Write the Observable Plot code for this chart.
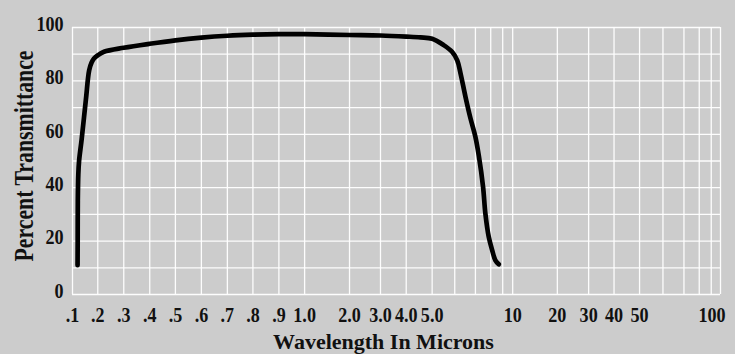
<!DOCTYPE html>
<html><head><meta charset="utf-8">
<script src="https://cdn.jsdelivr.net/npm/d3@7"></script>
<script src="https://cdn.jsdelivr.net/npm/@observablehq/plot@0.6"></script>
<style>
html,body{margin:0;padding:0;background:#cccccc;}
#chart svg{display:block;}
</style></head><body><div id="chart"></div>
<script>
// ---- data ----
const wavelength = [0.12, 0.1205, 0.121, 0.123, 0.126, 0.136, 0.153, 0.166, 0.176, 0.185, 0.2, 0.224, 0.3, 0.4, 0.5, 0.6, 0.7, 0.8, 0.9, 1.0, 2.0, 3.0, 4.0, 4.55, 5.0, 5.51, 5.88, 6.12, 6.28, 6.52, 6.76, 7.0, 7.22, 7.5, 7.65, 7.87, 8.12, 8.39, 8.67];
const transmittance = [11, 20, 35, 45, 50, 58, 73, 84, 87, 88.4, 89.6, 90.9, 92.4, 93.9, 95.2, 96.2, 96.9, 97.3, 97.5, 97.5, 97.2, 97.0, 96.6, 96.3, 95.8, 93.4, 90.9, 87.7, 82.8, 74, 66, 59, 52, 40.3, 30.3, 21.6, 16.6, 12.8, 11.3];

// chart-paper ruling (vertical lines) and its axis labels
const xGridValues = [0.1,0.2,0.3,0.4,0.5,0.6,0.7,0.8,0.9,1,2,3,4,5,6,7,8,9,10,20,30,40,50,60,70,80,90,100];
const xTickValues = [0.1,0.2,0.3,0.4,0.5,0.6,0.7,0.8,0.9,1,2,3,4,5,10,20,30,40,50,100];
const xTickLabels = [".1",".2",".3",".4",".5",".6",".7",".8",".9","1.0","2.0","3.0","4.0","5.0","10","20","30","40","50","100"];
const yGridValues = [0,10,20,30,40,50,60,70,80,90,100];
const yTickValues = [0,20,40,60,80,100];
const xTitle = "Wavelength In Microns";
const yTitle = "Percent Transmittance";

// ---- scale configuration: relative position of each ruling line across the frame ----
const xRuling = [0,0.0390,0.0791,0.1192,0.1588,0.1989,0.2390,0.2784,0.3185,0.3582,0.4275,0.4753,0.5150,0.5550,0.5899,0.6218,0.6454,0.6639,0.6793,0.7482,0.7965,0.8357,0.8751,0.9112,0.9436,0.9672,0.9857,1];

const W = 735, H = 354, ML = 72, MR = 15, MT = 27, MB = 60;
const data = wavelength.map((w, i) => ({w, t: transmittance[i]}));
const font = "'Liberation Serif', 'Times New Roman', serif";
const ink = "#111111";

const plot = Plot.plot({
  width: W, height: H,
  marginLeft: ML, marginRight: MR, marginTop: MT, marginBottom: MB,
  style: {background: "#cccccc", fontFamily: font, color: ink},
  x: {type: "linear", domain: xGridValues, range: xRuling.map(f => ML + f * (W - ML - MR))},
  y: {domain: [0, 100]},
  marks: [
    Plot.gridX(xGridValues, {stroke: "#ffffff", strokeOpacity: 0.95, strokeWidth: 1.3}),
    Plot.gridY(yGridValues, {stroke: "#ffffff", strokeOpacity: 0.95, strokeWidth: 1.3}),
    Plot.axisX(xTickValues, {
      tickSize: 0, tickPadding: 13, label: null,
      tickFormat: d => xTickLabels[xTickValues.indexOf(d)],
      fontSize: 21, fontWeight: "bold", fill: ink
    }),
    Plot.axisY(yTickValues, {
      tickSize: 0, tickPadding: 9, label: null, dy: -3.4,
      fontSize: 21, fontWeight: "bold", fill: ink
    }),
    Plot.line(data, {
      x: "w", y: "t", curve: "catmull-rom",
      stroke: "#000000", strokeWidth: 4.7, strokeLinecap: "round", strokeLinejoin: "round"
    }),
    Plot.text([xTitle], {
      text: d => d, frameAnchor: "bottom", lineAnchor: "middle", textAnchor: "middle",
      dx: -13, dy: 47, fontSize: 22, fontWeight: "bold", fill: ink
    }),
    Plot.text([yTitle], {
      text: d => d, frameAnchor: "left", lineAnchor: "middle", textAnchor: "middle",
      rotate: -90, dx: -48, dy: -5, fontSize: 27, fontWeight: "bold", fill: ink
    })
  ]
});

document.getElementById("chart").appendChild(plot);

// the reference sets its numerals and vertical title in condensed letters
const tickSet = new Set([...xTickLabels, ...yTickValues.map(String)]);
const lastX = xTickLabels[xTickLabels.length - 1];
d3.select(plot).selectAll("text").each(function () {
  const s = this.textContent;
  if (s === yTitle) {
    this.setAttribute("textLength", 211);
    this.setAttribute("lengthAdjust", "spacingAndGlyphs");
  } else if (tickSet.has(s)) {
    const len = this.getComputedTextLength();
    this.setAttribute("textLength", (len * 0.86).toFixed(1));
    this.setAttribute("lengthAdjust", "spacingAndGlyphs");
    const g = this.closest("g[aria-label]");
    if (s === lastX && g && /x-axis/.test(g.getAttribute("aria-label"))) {
      // the last label sits inside the right edge, as in the reference
      this.setAttribute("text-anchor", "end");
      this.setAttribute("dx", "5");
    }
  }
});
</script>
</body></html>
